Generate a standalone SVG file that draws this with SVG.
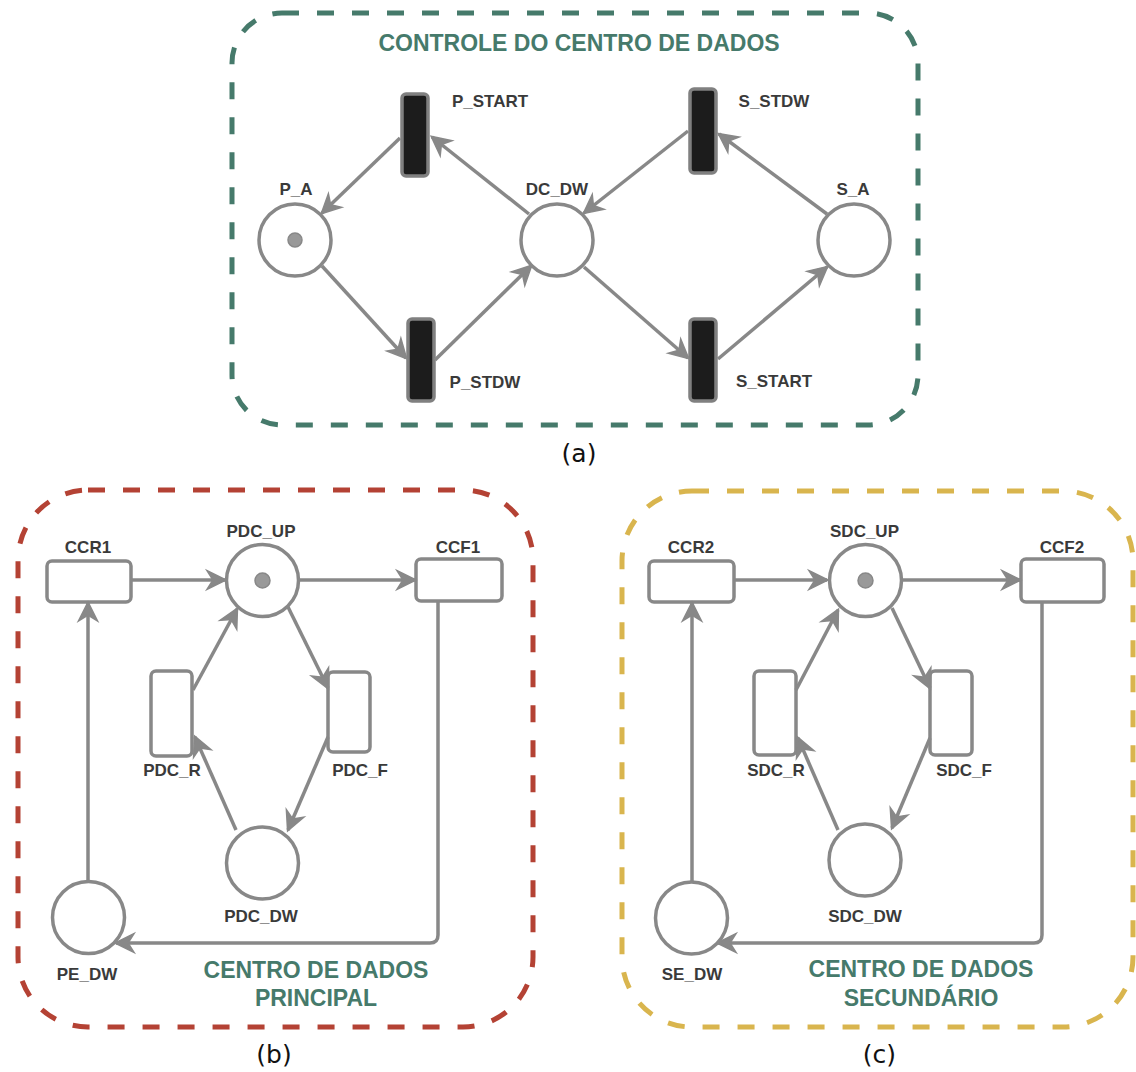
<svg xmlns="http://www.w3.org/2000/svg" width="1136" height="1072" viewBox="0 0 1136 1072">
  <style>
    .frame { fill: none; stroke-width: 5; stroke-dasharray: 17 18; }
    .place { fill: #fff; stroke: #888; stroke-width: 3.5; }
    .token { fill: #999; stroke: #888; stroke-width: 1.5; }
    .trans-black { fill: #1c1c1c; stroke: #808080; stroke-width: 3.5; }
    .trans { fill: #fff; stroke: #888; stroke-width: 3.5; }
    .arc { fill: none; stroke: #888; stroke-width: 3.5; marker-end: url(#head); }
    .lbl { font-family: "Liberation Sans", Arial, sans-serif; font-size: 17px; font-weight: bold; fill: #3a3a3a; text-anchor: middle; }
    .title { font-family: "Liberation Sans", Arial, sans-serif; font-size: 23px; font-weight: bold; fill: #467a6b; text-anchor: middle; }
    .cap { font-family: "DejaVu Sans", sans-serif; font-size: 25px; fill: #111; text-anchor: middle; }
  </style>
  <defs>
    <marker id="head" markerUnits="userSpaceOnUse" markerWidth="26" markerHeight="26" viewBox="0 0 26 26" refX="20" refY="13" orient="auto" overflow="visible">
      <path d="M21,13 L2,3.5 L8,13 L2,22.5 Z" fill="#888" stroke="#888" stroke-width="1.5" stroke-linejoin="miter"/>
    </marker>
  </defs>

  <rect width="1136" height="1072" fill="#fff"/>

  <!-- (a) data-center control -->
  <g id="frame-a">
    <rect class="frame" x="232" y="13" width="686" height="412" rx="50" ry="50" stroke="#467a6b"/>
    <text class="title" x="579" y="51">CONTROLE DO CENTRO DE DADOS</text>
  </g>

  <g id="P_A">
    <circle class="place" cx="295" cy="240" r="36"/>
    <circle class="token" cx="295" cy="240" r="7"/>
    <text class="lbl" x="296" y="195">P_A</text>
  </g>
  <g id="DC_DW">
    <circle class="place" cx="557" cy="240" r="36"/>
    <text class="lbl" x="557" y="195">DC_DW</text>
  </g>
  <g id="S_A">
    <circle class="place" cx="854" cy="240" r="36"/>
    <text class="lbl" x="853" y="195">S_A</text>
  </g>
  <g id="P_START">
    <rect class="trans-black" x="402" y="94" width="26" height="82" rx="4"/>
    <text class="lbl" x="490" y="107">P_START</text>
  </g>
  <g id="P_STDW">
    <rect class="trans-black" x="408" y="319" width="26" height="82" rx="4"/>
    <text class="lbl" x="485" y="388">P_STDW</text>
  </g>
  <g id="S_STDW">
    <rect class="trans-black" x="690" y="89" width="26" height="84" rx="4"/>
    <text class="lbl" x="774" y="107">S_STDW</text>
  </g>
  <g id="S_START">
    <rect class="trans-black" x="690" y="319" width="26" height="82" rx="4"/>
    <text class="lbl" x="774" y="387">S_START</text>
  </g>

  <text class="cap" x="579" y="462">(a)</text>

  <!-- (b) primary data center -->
  <g id="frame-b">
    <rect class="frame" x="18" y="490" width="515" height="537" rx="70" ry="70" stroke="#b44234"/>
    <text class="title" x="316" y="978">CENTRO DE DADOS</text>
    <text class="title" x="316" y="1006">PRINCIPAL</text>
  </g>

  <g id="CCR1">
    <rect class="trans" x="47" y="561" width="84" height="41" rx="5"/>
    <text class="lbl" x="88" y="553">CCR1</text>
  </g>
  <g id="PDC_UP">
    <circle class="place" cx="262.5" cy="580.5" r="36"/>
    <circle class="token" cx="262.5" cy="580.5" r="7.5"/>
    <text class="lbl" x="261" y="537">PDC_UP</text>
  </g>
  <g id="CCF1">
    <rect class="trans" x="416" y="559" width="86" height="42" rx="5"/>
    <text class="lbl" x="458" y="553">CCF1</text>
  </g>
  <g id="PDC_R">
    <rect class="trans" x="151" y="671" width="41" height="85" rx="5"/>
    <text class="lbl" x="172" y="776">PDC_R</text>
  </g>
  <g id="PDC_F">
    <rect class="trans" x="328" y="672" width="42" height="80" rx="5"/>
    <text class="lbl" x="360" y="776">PDC_F</text>
  </g>
  <g id="PDC_DW">
    <circle class="place" cx="262.5" cy="863" r="36"/>
    <text class="lbl" x="261" y="922">PDC_DW</text>
  </g>
  <g id="PE_DW">
    <circle class="place" cx="88.5" cy="917.5" r="36"/>
    <text class="lbl" x="87" y="980">PE_DW</text>
  </g>

  <text class="cap" x="274" y="1063">(b)</text>

  <!-- (c) secondary data center -->
  <g id="frame-c">
    <rect class="frame" x="622" y="491" width="511" height="536" rx="70" ry="70" stroke="#d9b54e"/>
    <text class="title" x="921" y="977">CENTRO DE DADOS</text>
    <text class="title" x="921" y="1006">SECUNDÁRIO</text>
  </g>

  <g id="CCR2">
    <rect class="trans" x="649" y="561" width="85" height="41" rx="5"/>
    <text class="lbl" x="691" y="553">CCR2</text>
  </g>
  <g id="SDC_UP">
    <circle class="place" cx="865.5" cy="580.5" r="36"/>
    <circle class="token" cx="865.5" cy="580.5" r="7.5"/>
    <text class="lbl" x="864.5" y="537">SDC_UP</text>
  </g>
  <g id="CCF2">
    <rect class="trans" x="1021" y="559" width="83" height="43" rx="5"/>
    <text class="lbl" x="1062" y="553">CCF2</text>
  </g>
  <g id="SDC_R">
    <rect class="trans" x="754" y="671" width="42" height="84" rx="5"/>
    <text class="lbl" x="776" y="776">SDC_R</text>
  </g>
  <g id="SDC_F">
    <rect class="trans" x="930" y="671" width="42" height="84" rx="5"/>
    <text class="lbl" x="964" y="776">SDC_F</text>
  </g>
  <g id="SDC_DW">
    <circle class="place" cx="865" cy="860" r="36"/>
    <text class="lbl" x="865" y="922">SDC_DW</text>
  </g>
  <g id="SE_DW">
    <circle class="place" cx="691.5" cy="918" r="36"/>
    <text class="lbl" x="692" y="980">SE_DW</text>
  </g>

  <text class="cap" x="879.5" y="1063">(c)</text>

  <!-- arcs -->
  <g id="connectors">
    <!-- (a) -->
    <path class="arc" d="M400,138 L322,213"/>
    <path class="arc" d="M529,214 L432,137"/>
    <path class="arc" d="M322,266 L406,358"/>
    <path class="arc" d="M435,360 L531,266"/>
    <path class="arc" d="M688,131 L584,213"/>
    <path class="arc" d="M827,214 L719,134"/>
    <path class="arc" d="M584,267 L688,358"/>
    <path class="arc" d="M718,359 L827,267"/>
    <!-- (b) -->
    <path class="arc" d="M131,580 L225,580"/>
    <path class="arc" d="M299,580 L415,580"/>
    <path class="arc" d="M288,607 L328,688"/>
    <path class="arc" d="M193,690 L237,609"/>
    <path class="arc" d="M328,737 L288,830"/>
    <path class="arc" d="M236,830 L195,737"/>
    <path class="arc" d="M88,881 L88,603"/>
    <path class="arc" d="M438,601 L438,935 Q438,943 430,943 L116,943"/>
    <!-- (c) -->
    <path class="arc" d="M734,580 L827,580"/>
    <path class="arc" d="M902,580 L1020,580"/>
    <path class="arc" d="M892,608 L930,688"/>
    <path class="arc" d="M796,690 L838,610"/>
    <path class="arc" d="M930,738 L892,828"/>
    <path class="arc" d="M838,830 L798,738"/>
    <path class="arc" d="M692,882 L692,603"/>
    <path class="arc" d="M1042,602 L1042,935 Q1042,943 1034,943 L718,943"/>
  </g>
</svg>
